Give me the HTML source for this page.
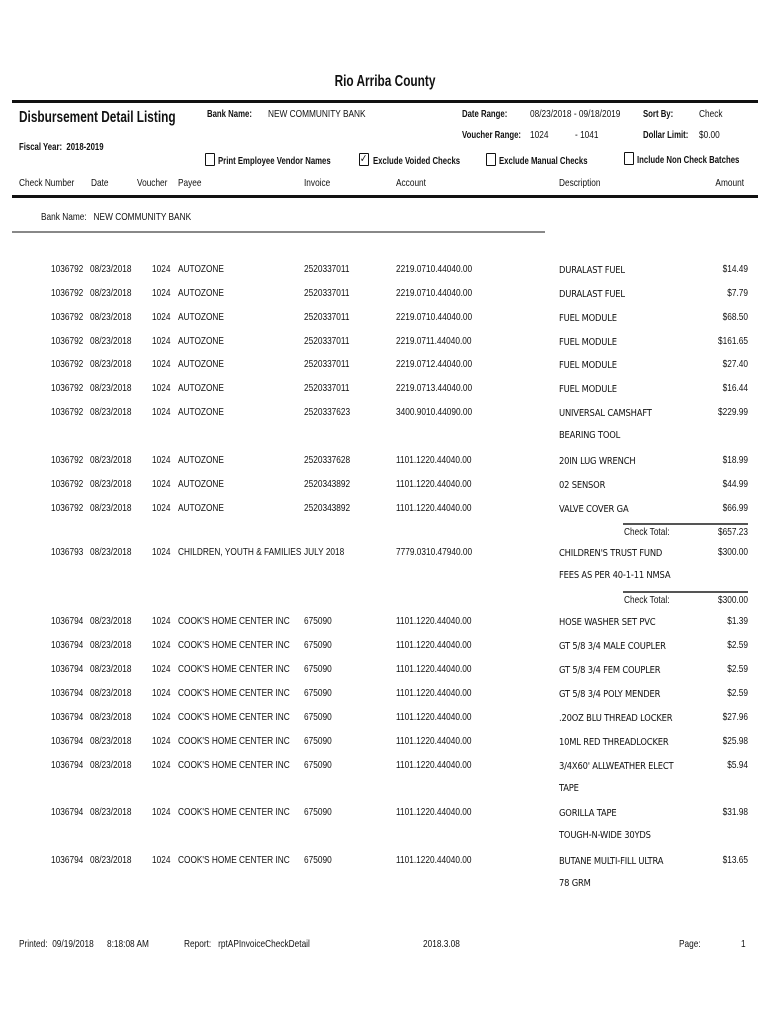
<!DOCTYPE html>
<html><head><meta charset="utf-8"><style>
body{margin:0;background:#fff;}
#p{position:relative;width:770px;height:1024px;overflow:hidden;font-family:"Liberation Sans",sans-serif;color:#111;font-size:10.5px;}
.t{position:absolute;white-space:nowrap;line-height:12px;transform:scaleX(.79);transform-origin:left center;}
.b{font-weight:bold;transform:scaleX(.74);}
.r{text-align:right;transform-origin:right center;}
.c{transform-origin:center center;}
.d{font-family:"DejaVu Sans Condensed","DejaVu Sans",sans-serif;font-size:10px;letter-spacing:-0.2px;transform:scaleX(.93);}
.ln{position:absolute;background:#111;}
.cb{position:absolute;width:8px;height:11px;border:1.2px solid #111;border-radius:1px;}
</style></head><body><div id="p">
<div class="t b c" style="left:0;width:770px;text-align:center;top:73px;font-size:16px;line-height:18px">Rio Arriba County</div>
<div class="ln" style="left:12px;top:100px;width:746px;height:3px"></div>
<div class="t b" style="left:19px;top:109px;font-size:16px;line-height:18px">Disbursement Detail Listing</div>
<div class="t b" style="left:207px;top:108px">Bank Name:</div>
<div class="t" style="left:268px;top:108px">NEW COMMUNITY BANK</div>
<div class="t b" style="left:462px;top:108px">Date Range:</div>
<div class="t" style="left:530px;top:108px">08/23/2018 - 09/18/2019</div>
<div class="t b" style="left:643px;top:108px">Sort By:</div>
<div class="t" style="left:699px;top:108px">Check</div>
<div class="t b" style="left:462px;top:129px">Voucher Range:</div>
<div class="t" style="left:530px;top:129px">1024</div>
<div class="t" style="left:575px;top:129px">- 1041</div>
<div class="t b" style="left:643px;top:129px">Dollar Limit:</div>
<div class="t" style="left:699px;top:129px">$0.00</div>
<div class="t b" style="left:19px;top:141px">Fiscal Year:&nbsp; 2018-2019</div>
<div class="cb" style="left:205px;top:153px"></div><div class="t b" style="left:218px;top:155px">Print Employee Vendor Names</div>
<div class="cb" style="left:359px;top:153px"></div><div class="t" style="left:360px;top:153px;font-size:11px">✓</div><div class="t b" style="left:373px;top:155px">Exclude Voided Checks</div>
<div class="cb" style="left:486px;top:153px"></div><div class="t b" style="left:499px;top:155px">Exclude Manual Checks</div>
<div class="cb" style="left:624px;top:152px"></div><div class="t b" style="left:637px;top:154px">Include Non Check Batches</div>
<div class="t" style="left:19px;top:177px">Check Number</div>
<div class="t" style="left:91px;top:177px">Date</div>
<div class="t" style="left:137px;top:177px">Voucher</div>
<div class="t" style="left:178px;top:177px">Payee</div>
<div class="t" style="left:304px;top:177px">Invoice</div>
<div class="t" style="left:396px;top:177px">Account</div>
<div class="t" style="left:559px;top:177px">Description</div>
<div class="t r" style="left:650px;width:94px;top:177px">Amount</div>
<div class="ln" style="left:12px;top:195px;width:746px;height:3px"></div>
<div class="t" style="left:41px;top:211px">Bank Name:&nbsp;&nbsp; NEW COMMUNITY BANK</div>
<div class="ln" style="left:12px;top:231px;width:533px;height:2px;background:#888"></div>
<div id="rows"></div>
<div class="t" style="left:19px;top:938px">Printed:&nbsp; 09/19/2018</div>
<div class="t" style="left:107px;top:938px">8:18:08 AM</div>
<div class="t" style="left:184px;top:938px">Report:&nbsp;&nbsp; rptAPInvoiceCheckDetail</div>
<div class="t" style="left:423px;top:938px">2018.3.08</div>
<div class="t" style="left:679px;top:938px">Page:</div>
<div class="t" style="left:741px;top:938px">1</div>
</div>
<script>
var A=[
[263,"1036792","AUTOZONE","2520337011","2219.0710.44040.00","DURALAST FUEL","$14.49"],
[287,"1036792","AUTOZONE","2520337011","2219.0710.44040.00","DURALAST FUEL","$7.79"],
[311,"1036792","AUTOZONE","2520337011","2219.0710.44040.00","FUEL MODULE","$68.50"],
[335,"1036792","AUTOZONE","2520337011","2219.0711.44040.00","FUEL MODULE","$161.65"],
[358,"1036792","AUTOZONE","2520337011","2219.0712.44040.00","FUEL MODULE","$27.40"],
[382,"1036792","AUTOZONE","2520337011","2219.0713.44040.00","FUEL MODULE","$16.44"],
[406,"1036792","AUTOZONE","2520337623","3400.9010.44090.00","UNIVERSAL CAMSHAFT|BEARING TOOL","$229.99"],
[454,"1036792","AUTOZONE","2520337628","1101.1220.44040.00","20IN LUG WRENCH","$18.99"],
[478,"1036792","AUTOZONE","2520343892","1101.1220.44040.00","02 SENSOR","$44.99"],
[502,"1036792","AUTOZONE","2520343892","1101.1220.44040.00","VALVE COVER GA","$66.99"],
[546,"1036793","CHILDREN, YOUTH &amp; FAMILIES","JULY 2018","7779.0310.47940.00","CHILDREN'S TRUST FUND|FEES AS PER 40-1-11 NMSA","$300.00"],
[615,"1036794","COOK'S HOME CENTER INC","675090","1101.1220.44040.00","HOSE WASHER SET PVC","$1.39"],
[639,"1036794","COOK'S HOME CENTER INC","675090","1101.1220.44040.00","GT 5/8 3/4 MALE COUPLER","$2.59"],
[663,"1036794","COOK'S HOME CENTER INC","675090","1101.1220.44040.00","GT 5/8 3/4 FEM COUPLER","$2.59"],
[687,"1036794","COOK'S HOME CENTER INC","675090","1101.1220.44040.00","GT 5/8 3/4 POLY MENDER","$2.59"],
[711,"1036794","COOK'S HOME CENTER INC","675090","1101.1220.44040.00",".20OZ BLU THREAD LOCKER","$27.96"],
[735,"1036794","COOK'S HOME CENTER INC","675090","1101.1220.44040.00","10ML RED THREADLOCKER","$25.98"],
[759,"1036794","COOK'S HOME CENTER INC","675090","1101.1220.44040.00","3/4X60' ALLWEATHER ELECT|TAPE","$5.94"],
[806,"1036794","COOK'S HOME CENTER INC","675090","1101.1220.44040.00","GORILLA TAPE|TOUGH-N-WIDE 30YDS","$31.98"],
[854,"1036794","COOK'S HOME CENTER INC","675090","1101.1220.44040.00","BUTANE MULTI-FILL ULTRA|78 GRM","$13.65"]];
var h="";
A.forEach(function(r){var y=r[0];
h+='<div class="t" style="left:51px;top:'+y+'px">'+r[1]+'</div><div class="t" style="left:90px;top:'+y+'px">08/23/2018</div><div class="t" style="left:152px;top:'+y+'px">1024</div><div class="t" style="left:178px;top:'+y+'px">'+r[2]+'</div><div class="t" style="left:304px;top:'+y+'px">'+r[3]+'</div><div class="t" style="left:396px;top:'+y+'px">'+r[4]+'</div>';
r[5].split("|").forEach(function(s,i){h+='<div class="t d" style="left:559px;top:'+(y+2+i*22)+'px">'+s+'</div>';});
h+='<div class="t r" style="left:650px;width:98px;top:'+y+'px">'+r[6]+'</div>';});
[[526,"$657.23"],[594,"$300.00"]].forEach(function(c){var y=c[0];
h+='<div class="ln" style="left:623px;top:'+(y-3)+'px;width:125px;height:2px;background:#555"></div><div class="t" style="left:624px;top:'+y+'px">Check Total:</div><div class="t r" style="left:650px;width:98px;top:'+y+'px">'+c[1]+'</div>';});
document.getElementById("rows").innerHTML=h;
</script>
</body></html>
